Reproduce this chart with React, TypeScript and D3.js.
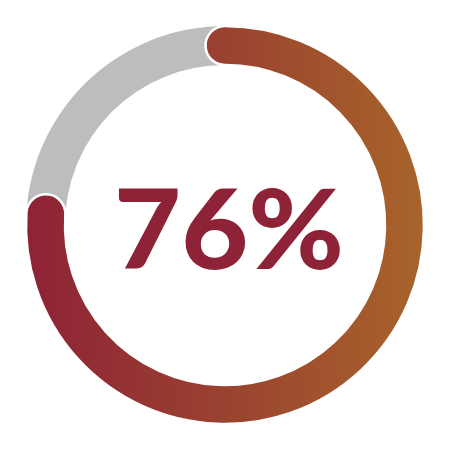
import React, { useEffect, useRef } from 'react';
import * as d3 from 'd3';

// share of the ring that is filled, and its label
const values = [76];
const labels = ['76%'];
const gradientStops = ['#8e2236', '#9a4230', '#a8642a'];
const trackColor = '#bcbdbf';
const textColor = '#8e2236';

const App: React.FC = () => {
  const ref = useRef<HTMLDivElement | null>(null);

  useEffect(() => {
    if (!ref.current) return;
    d3.select(ref.current).selectAll('*').remove();

    const size = 450;
    const cx = 225;
    const cy = 225;
    const outer = 199;
    const inner = 160;
    const mid = (outer + inner) / 2;
    const thick = outer - inner;

    const svg = d3.select(ref.current)
      .append('svg')
      .attr('width', size)
      .attr('height', size)
      .style('display', 'block');

    // horizontal gradient across the ring, in the ring's own coordinates
    const grad = svg.append('defs').append('linearGradient')
      .attr('id', 'ringGrad')
      .attr('gradientUnits', 'userSpaceOnUse')
      .attr('x1', -outer).attr('y1', 0)
      .attr('x2', outer).attr('y2', 0);
    gradientStops.forEach((c, i) => {
      grad.append('stop')
        .attr('offset', `${(i / (gradientStops.length - 1)) * 100}%`)
        .attr('stop-color', c);
    });

    const g = svg.append('g').attr('transform', `translate(${cx},${cy})`);

    const angle = d3.scaleLinear().domain([0, 100]).range([0, 2 * Math.PI]);

    const track = d3.arc<any>()
      .innerRadius(inner)
      .outerRadius(outer)
      .startAngle(0)
      .endAngle(2 * Math.PI);

    g.append('path')
      .attr('d', track({}) as string)
      .attr('fill', trackColor);

    // value arc with round ends: extend by the cap angle and round the corners
    const cap = (thick / 2) / mid;
    const valueArc = d3.arc<number>()
      .innerRadius(inner)
      .outerRadius(outer)
      .cornerRadius(thick / 2)
      .startAngle(-cap)
      .endAngle(d => angle(d) + cap);

    g.selectAll('path.value')
      .data(values)
      .enter()
      .append('path')
      .attr('class', 'value')
      .attr('d', d => valueArc(d) as string)
      .attr('fill', 'url(#ringGrad)')
      .attr('stroke', '#fff')
      .attr('stroke-width', 2.5);

    svg.append('text')
      .attr('x', 229)
      .attr('y', 269)
      .attr('text-anchor', 'middle')
      .attr('font-family', 'Lato, sans-serif')
      .attr('font-weight', 900)
      .attr('font-size', 111)
      .attr('textLength', 230)
      .attr('lengthAdjust', 'spacingAndGlyphs')
      .attr('fill', textColor)
      .text(labels[0]);
  }, []);

  return <div ref={ref} style={{ margin: -8 }}></div>;
};

export default App;
